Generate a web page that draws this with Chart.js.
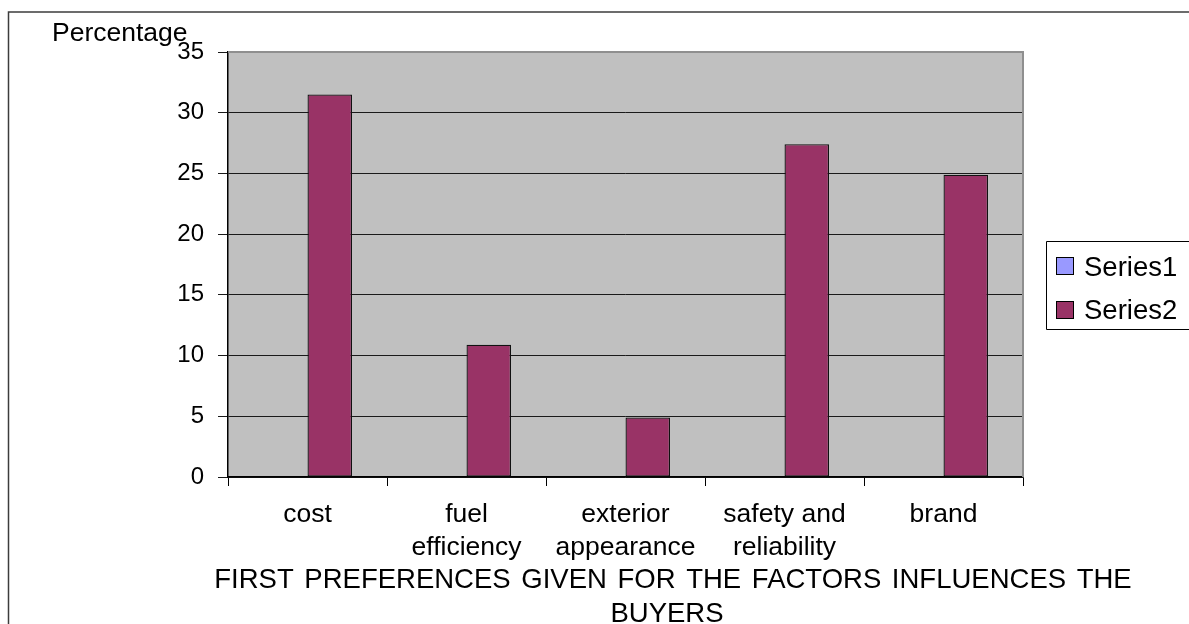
<!DOCTYPE html>
<html>
<head>
<meta charset="utf-8">
<script src="https://cdn.jsdelivr.net/npm/chart.js@4/dist/chart.umd.min.js"></script>
<style>
  html, body { margin: 0; padding: 0; background: #ffffff; }
  #wrap { width: 1189px; height: 624px; position: relative; }
</style>
</head>
<body>
<div id="wrap"><canvas id="chart" width="1189" height="624"></canvas></div>
<script>
// Factors influencing buyers: share of first preferences (%)
const categories = [
  ['cost'],
  ['fuel', 'efficiency'],
  ['exterior', 'appearance'],
  ['safety and', 'reliability'],
  ['brand']
];
const series1Values = [0, 0, 0, 0, 0];
const series2Values = [31.5, 10.9, 4.9, 27.4, 24.9];
const seriesNames = ['Series1', 'Series2'];
const yTicks = [0, 5, 10, 15, 20, 25, 30, 35];
const yAxisLabel = 'Percentage';
const xAxisTitle = ['FIRST PREFERENCES GIVEN FOR THE FACTORS INFLUENCES THE', 'BUYERS'];

const FONT = '"Liberation Sans", Arial, sans-serif';
const colors = ['#9999FF', '#993366'];

// Frame, plot background, y-label, x title and legend
const decor = {
  id: 'decor',
  beforeDraw(chart) {
    const { ctx, chartArea: a } = chart;
    ctx.save();
    ctx.fillStyle = '#C0C0C0';
    ctx.fillRect(a.left, a.top, a.right - a.left, a.bottom - a.top);
    // outer frame
    ctx.strokeStyle = '#3c3c3c';
    ctx.lineWidth = 1.5;
    ctx.beginPath();
    ctx.moveTo(8.5, 630);
    ctx.lineTo(8.5, 12);
    ctx.lineTo(1195, 12);
    ctx.stroke();
    ctx.restore();
  },
  afterDraw(chart) {
    const { ctx, chartArea: a } = chart;
    ctx.save();
    // plot frame (top and right)
    ctx.strokeStyle = '#8f8f8f';
    ctx.lineWidth = 2;
    ctx.beginPath();
    ctx.moveTo(a.left, a.top);
    ctx.lineTo(a.right, a.top);
    ctx.lineTo(a.right, a.bottom);
    ctx.stroke();

    ctx.fillStyle = '#000';
    ctx.textBaseline = 'alphabetic';

    // y-axis label
    ctx.font = '26.5px ' + FONT;
    ctx.textAlign = 'left';
    ctx.fillText(yAxisLabel, 52, 40.5);

    // x-axis title
    ctx.font = '27.5px ' + FONT;
    ctx.textAlign = 'center';
    ctx.wordSpacing = '3px';
    ctx.fillText(xAxisTitle[0], 673, 588);
    ctx.wordSpacing = '0px';
    ctx.fillText(xAxisTitle[1], 667, 621.5);

    // legend
    const lx = 1046.5, ly = 241.5;
    ctx.strokeStyle = '#000';
    ctx.lineWidth = 1;
    ctx.beginPath();
    ctx.moveTo(1195, ly);
    ctx.lineTo(lx, ly);
    ctx.lineTo(lx, 329.5);
    ctx.lineTo(1195, 329.5);
    ctx.stroke();
    ctx.font = '27.5px ' + FONT;
    ctx.textAlign = 'left';
    chart.data.datasets.forEach((ds, i) => {
      const sy = 257 + i * 44;
      ctx.fillStyle = ds.backgroundColor;
      ctx.fillRect(1056.5, sy + 0.5, 17, 17);
      ctx.strokeRect(1056.5, sy + 0.5, 17, 17);
      ctx.fillStyle = '#000';
      ctx.fillText(ds.label, 1084, 276 + i * 42.5);
    });
    ctx.restore();
  }
};

new Chart(document.getElementById('chart'), {
  type: 'bar',
  data: {
    labels: categories,
    datasets: [
      {
        label: seriesNames[0],
        data: series1Values,
        backgroundColor: colors[0],
        borderColor: '#000',
        borderWidth: 0
      },
      {
        label: seriesNames[1],
        data: series2Values,
        backgroundColor: colors[1],
        borderColor: '#111',
        borderWidth: 1.3,
        borderSkipped: false
      }
    ]
  },
  options: {
    responsive: false,
    animation: false,
    events: [],
    layout: { padding: { left: 0, top: 52, right: 166, bottom: 0 } },
    datasets: { bar: { categoryPercentage: 0.56, barPercentage: 1.0 } },
    plugins: {
      legend: { display: false },
      title: { display: false },
      tooltip: { enabled: false }
    },
    scales: {
      x: {
        afterFit(scale) { scale.height = 147; },
        grid: {
          offset: true,
          drawOnChartArea: false,
          drawTicks: true,
          tickLength: 9,
          color: '#000',
          lineWidth: 1
        },
        border: { color: '#000', width: 1.5 },
        ticks: {
          color: '#000',
          padding: 12,
          maxRotation: 0,
          autoSkip: false,
          font: { family: FONT, size: 26.5, lineHeight: 1.26 }
        }
      },
      y: {
        min: yTicks[0],
        max: yTicks[yTicks.length - 1],
        afterFit(scale) { scale.width = 228; },
        afterBuildTicks(scale) { scale.ticks = yTicks.map(v => ({ value: v })); },
        grid: {
          color: '#1a1a1a',
          lineWidth: 1,
          drawTicks: true,
          tickLength: 10
        },
        border: { color: '#000', width: 1.5 },
        ticks: {
          color: '#000',
          padding: 14,
          font: { family: FONT, size: 24 }
        }
      }
    }
  },
  plugins: [decor]
});
</script>
</body>
</html>
